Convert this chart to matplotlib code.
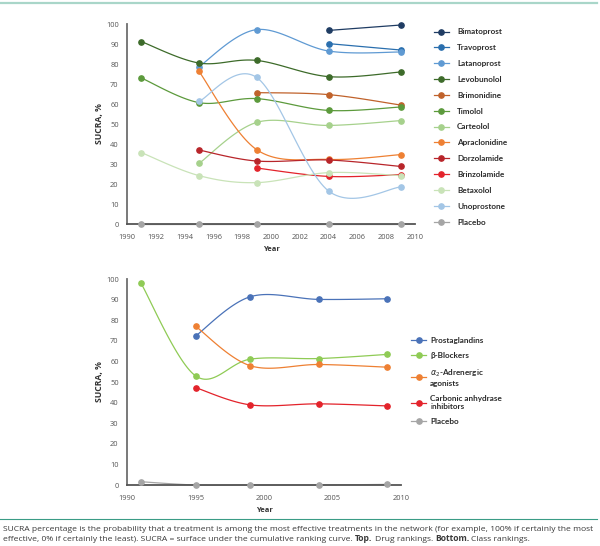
import matplotlib
matplotlib.use('Agg')
import matplotlib.pyplot as plt
from matplotlib.lines import Line2D
import numpy as np

# ---- data: top panel (drug rankings) ----
drugs = ['Bimatoprost', 'Travoprost', 'Latanoprost', 'Levobunolol', 'Brimonidine',
         'Timolol', 'Carteolol', 'Apraclonidine', 'Dorzolamide', 'Brinzolamide',
         'Betaxolol', 'Unoprostone', 'Placebo']
drug_colors = ['#1f3c63', '#2a6fae', '#5f9ad3', '#3d6b2a', '#c0622b',
               '#5c9a3c', '#a6d18c', '#ee8033', '#b8252a', '#e3232b',
               '#c9e3b8', '#a3c6e6', '#a5a5a5']
drug_years = {
    'Bimatoprost':   [2004, 2009],
    'Travoprost':    [2004, 2009],
    'Latanoprost':   [1995, 1999, 2004, 2009],
    'Levobunolol':   [1991, 1995, 1999, 2004, 2009],
    'Brimonidine':   [1999, 2004, 2009],
    'Timolol':       [1991, 1995, 1999, 2004, 2009],
    'Carteolol':     [1995, 1999, 2004, 2009],
    'Apraclonidine': [1995, 1999, 2004, 2009],
    'Dorzolamide':   [1995, 1999, 2004, 2009],
    'Brinzolamide':  [1999, 2004, 2009],
    'Betaxolol':     [1991, 1995, 1999, 2004, 2009],
    'Unoprostone':   [1995, 1999, 2004, 2009],
    'Placebo':       [1991, 1995, 1999, 2004, 2009],
}
drug_sucra = {
    'Bimatoprost':   [96.8, 99.5],
    'Travoprost':    [90.2, 87.0],
    'Latanoprost':   [78.7, 97.2, 86.5, 86.0],
    'Levobunolol':   [91.2, 80.5, 81.8, 73.7, 76.0],
    'Brimonidine':   [65.7, 64.7, 59.5],
    'Timolol':       [73.0, 60.7, 62.7, 56.8, 58.5],
    'Carteolol':     [30.3, 50.8, 49.3, 51.7],
    'Apraclonidine': [76.3, 37.2, 32.3, 34.7],
    'Dorzolamide':   [37.0, 31.5, 32.0, 28.8],
    'Brinzolamide':  [28.0, 23.8, 24.7],
    'Betaxolol':     [35.7, 24.2, 20.7, 25.7, 24.2],
    'Unoprostone':   [61.3, 73.3, 16.5, 18.5],
    'Placebo':       [0, 0, 0, 0, 0],
}

# ---- data: bottom panel (class rankings) ----
classes = ['Prostaglandins', '\u03b2-Blockers', r'$\alpha_2$-Adrenergic' + '\nagonists',
           'Carbonic anhydrase\ninhibitors', 'Placebo']
class_colors = ['#4a72b8', '#8fcb55', '#ee8033', '#e3232b', '#a5a5a5']
class_years = [[1995, 1999, 2004, 2009],
               [1991, 1995, 1999, 2004, 2009],
               [1995, 1999, 2004, 2009],
               [1995, 1999, 2004, 2009],
               [1991, 1995, 1999, 2004, 2009]]
class_sucra = [[72.3, 91.4, 90.1, 90.4],
               [98.2, 53.0, 61.1, 61.4, 63.4],
               [77.1, 57.9, 58.5, 57.2],
               [47.3, 38.9, 39.4, 38.4],
               [1.6, 0.0, 0.0, 0.0, 0.3]]

caption1 = ('SUCRA percentage is the probability that a treatment is among the most effective '
            'treatments in the network (for example, 100% if certainly the most')
caption2 = [('effective, 0% if certainly the least). SUCRA = surface under the cumulative '
             'ranking curve.', 'normal'), ('Top.', 'bold'), ('Drug rankings.', 'normal'),
            ('Bottom.', 'bold'), ('Class rankings.', 'normal')]


def smooth(xs, ys, n=30):
    # Excel-like smoothed line: cubic Bezier through points
    P = np.column_stack([xs, ys]).astype(float)
    if len(P) < 3:
        return P[:, 0], P[:, 1]
    out = []
    for i in range(len(P) - 1):
        p0 = P[i - 1] if i > 0 else P[i]
        p1, p2 = P[i], P[i + 1]
        p3 = P[i + 2] if i + 2 < len(P) else P[i + 1]
        c1 = p1 + (p2 - p0) / 6
        c2 = p2 - (p3 - p1) / 6
        t = np.linspace(0, 1, n)[:, None]
        seg = (1 - t) ** 3 * p1 + 3 * (1 - t) ** 2 * t * c1 + 3 * (1 - t) * t ** 2 * c2 + t ** 3 * p2
        out.append(seg if i == 0 else seg[1:])
    out = np.vstack(out)
    return out[:, 0], out[:, 1]


tick_font = 'Open Sans'
leg_font = 'Lato'

fig = plt.figure(figsize=(6, 5.46), dpi=100)


def style_axes(ax, xticks):
    ax.set_xlim(1990, 2010)
    ax.set_ylim(0, 100)
    ax.set_yticks(range(0, 101, 10))
    ax.set_xticks(xticks)
    for s in ['top', 'right']:
        ax.spines[s].set_visible(False)
    ax.spines['left'].set_color('#6e6e6e')
    ax.spines['left'].set_linewidth(1.3)
    ax.spines['bottom'].set_color('#555555')
    ax.spines['bottom'].set_linewidth(1.3)
    ax.tick_params(axis='y', length=0, pad=6, labelsize=5.4, labelcolor='#555555')
    ax.tick_params(axis='x', length=0, pad=7, labelsize=5.4, labelcolor='#555555')
    for lab in ax.get_xticklabels() + ax.get_yticklabels():
        lab.set_fontfamily(tick_font)
    ax.set_ylabel('SUCRA, %', fontsize=6.2, fontweight='bold', color='#333333',
                  fontfamily=tick_font, labelpad=1.5)
    ax.set_xlabel('Year', fontsize=5.4, fontweight='bold', color='#333333',
                  fontfamily=tick_font, labelpad=4)


# ---- top panel ----
ax1 = fig.add_axes([0.2117, 0.5897, 0.48, 0.3663])
handles = []
for name, col in zip(drugs, drug_colors):
    xs, ys = drug_years[name], drug_sucra[name]
    sx, sy = smooth(xs, ys)
    ax1.plot(sx, sy, color=col, lw=0.9, zorder=2, clip_on=False)
    ax1.plot(xs, ys, 'o', color=col, ms=3.8, zorder=3, clip_on=False)
    handles.append(Line2D([], [], color=col, lw=0.9, marker='o', ms=3.8))
style_axes(ax1, range(1990, 2011, 2))
leg1 = fig.legend(handles, drugs, loc='center left', bbox_to_anchor=(0.716, 0.7674),
                  frameon=False, borderpad=0, handlelength=1.9, handletextpad=0.95,
                  labelspacing=1.08, prop={'family': leg_font, 'size': 5.9, 'weight': 'bold'})
for t in leg1.get_texts():
    t.set_color('#2b2b2b')

# ---- bottom panel ----
ax2 = fig.add_axes([0.2117, 0.1117, 0.4567, 0.3773])
handles2 = []
for name, col, xs, ys in zip(classes, class_colors, class_years, class_sucra):
    sx, sy = smooth(xs, ys)
    ax2.plot(sx, sy, color=col, lw=0.9, zorder=2, clip_on=False)
    ax2.plot(xs, ys, 'o', color=col, ms=3.8, zorder=3, clip_on=False)
    handles2.append(Line2D([], [], color=col, lw=0.9, marker='o', ms=3.8))
style_axes(ax2, range(1990, 2011, 5))
leg2 = fig.legend(handles2, classes, loc='center left', bbox_to_anchor=(0.678, 0.3022),
                  frameon=False, borderpad=0, handlelength=1.9, handletextpad=0.45,
                  labelspacing=1.0, prop={'family': leg_font, 'size': 5.9, 'weight': 'bold'})
for t in leg2.get_texts():
    t.set_color('#2b2b2b')
    t.set_linespacing(1.15)

# ---- decorative rules ----
fig.add_artist(Line2D([0, 0.995], [1 - 3 / 546, 1 - 3 / 546], transform=fig.transFigure,
                      color='#a9d6c9', lw=1.6))
fig.add_artist(Line2D([0, 0.995], [1 - 519 / 546, 1 - 519 / 546], transform=fig.transFigure,
                      color='#3a9c86', lw=0.8))

# ---- caption ----
cap_kw = dict(fontsize=6.12, color='#3a3a3a', fontfamily=tick_font, va='baseline', ha='left')
fig.text(0.005, 1 - 531 / 546, caption1, **cap_kw)
fig.canvas.draw()
r = fig.canvas.get_renderer()
x = 0.005
space = 2.2 / fig.bbox.width
for txt, w in caption2:
    t = fig.text(x, 1 - 541 / 546, txt, fontweight=w, **cap_kw)
    bb = t.get_window_extent(renderer=r)
    x += bb.width / fig.bbox.width + space

fig.savefig('out.png', dpi=100)
